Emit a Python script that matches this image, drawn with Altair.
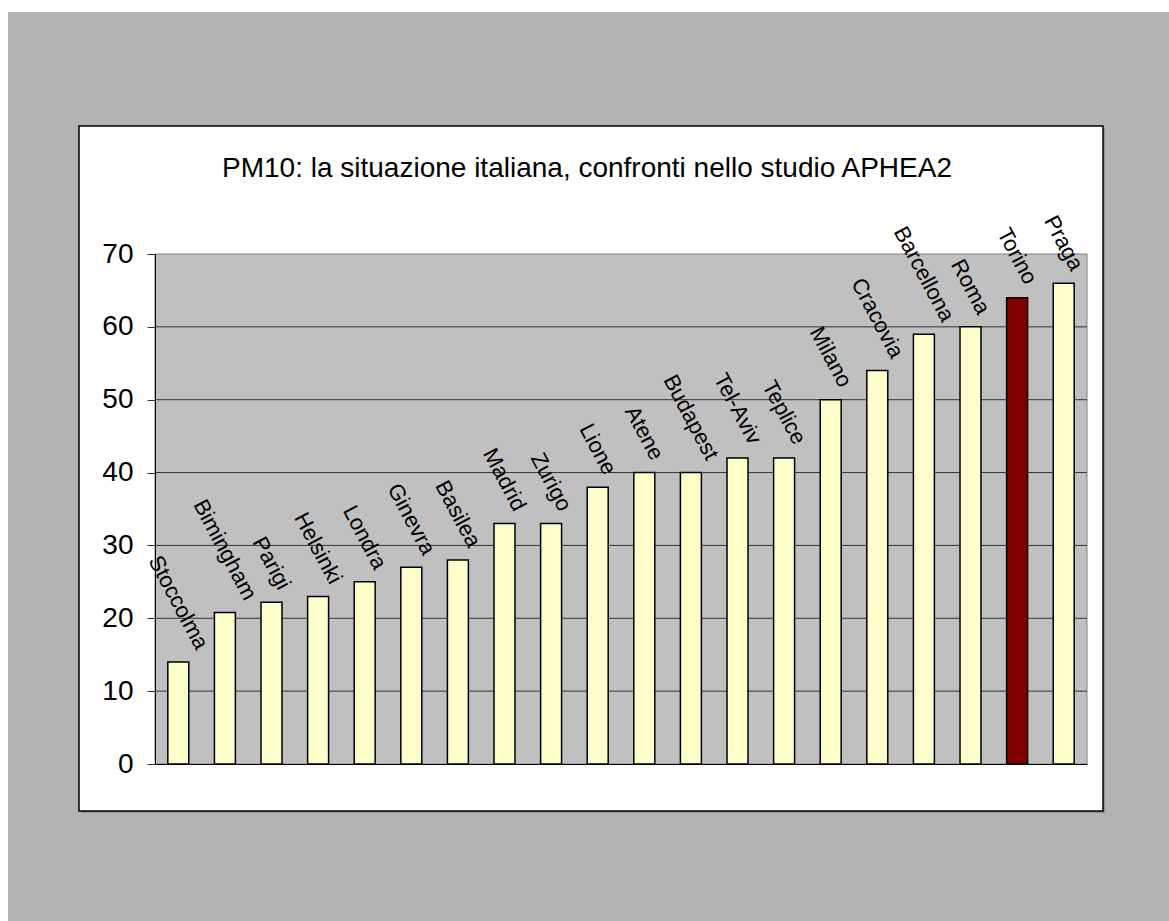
import math
import altair as alt
import pandas as pd

# ---- data ----
cities = ["Stoccolma", "Bimingham", "Parigi", "Helsinki", "Londra", "Ginevra", "Basilea",
          "Madrid", "Zurigo", "Lione", "Atene", "Budapest", "Tel-Aviv", "Teplice",
          "Milano", "Cracovia", "Barcellona", "Roma", "Torino", "Praga"]
pm10 = [14, 20.8, 22.2, 23, 25, 27, 28, 33, 33, 38, 40, 40, 42, 42, 50, 54, 59, 60, 64, 66]
highlight = "Torino"
y_ticks = [0, 10, 20, 30, 40, 50, 60, 70]
title_text = "PM10: la situazione italiana, confronti nello studio APHEA2"

# ---- layout ----
PL, PT, PR, PB = 155, 254, 82, 157
W, H = 1169 - PL - PR, 921 - PT - PB
FONT = "Liberation Sans"
ANG = 62
LFS = 22
YMAX = 70
sa, ca = math.sin(math.radians(ANG)), math.cos(math.radians(ANG))

# approximate Arial advance widths (1/1000 em) to centre each rotated label's box over its bar
ARIAL = {"A": 667, "B": 667, "C": 722, "G": 778, "H": 722, "L": 556, "M": 833, "P": 667,
         "R": 722, "S": 667, "T": 611, "Z": 611, "-": 333,
         "a": 556, "b": 556, "c": 500, "d": 556, "e": 556, "g": 556, "h": 556, "i": 222,
         "k": 500, "l": 222, "m": 833, "n": 556, "o": 556, "p": 556, "r": 333, "s": 500,
         "t": 278, "u": 556, "v": 500}


def label_y(city, value):
    length = sum(ARIAL.get(ch, 556) for ch in city) / 1000 * LFS
    box_h = length * sa + 0.8 * LFS * ca
    px = 10 + box_h / 2
    return value + px * YMAX / H


df = pd.DataFrame({"city": cities, "pm10": pm10})
df["ly"] = [label_y(c, v) for c, v in zip(cities, pm10)]
one = pd.DataFrame({"k": [0]})

yscale = alt.Scale(domain=[0, YMAX], nice=False)
xscale = alt.Scale(paddingInner=0.55, paddingOuter=0.275)
yaxis = alt.Axis(values=y_ticks, grid=False, title=None, tickSize=8, tickColor="#333333",
                 domainColor="black", domainWidth=1, labelFont=FONT, labelFontSize=28,
                 labelColor="black", labelPadding=14, zindex=1)
xaxis = alt.Axis(labels=False, ticks=False, title=None, domainColor="black",
                 domainWidth=1, zindex=1)

bg = alt.Chart(one).mark_rect(fill="#b3b3b3").encode(
    x=alt.value(8 - PL), x2=alt.value(1169 - PL), y=alt.value(12 - PT), y2=alt.value(921 - PT))
shadow = alt.Chart(one).mark_rect(fill="#8f8f8f").encode(
    x=alt.value(81 - PL), x2=alt.value(1105 - PL), y=alt.value(128 - PT), y2=alt.value(813 - PT))
box = alt.Chart(one).mark_rect(fill="white", stroke="black", strokeWidth=1.5).encode(
    x=alt.value(79 - PL), x2=alt.value(1103 - PL), y=alt.value(126 - PT), y2=alt.value(811 - PT))
plotbg = alt.Chart(one).mark_rect(fill="#c0c0c0", stroke="#808080", strokeWidth=1).encode(
    x=alt.value(0), x2=alt.value(W), y=alt.value(0), y2=alt.value(H))

grid = alt.Chart(pd.DataFrame({"v": y_ticks[1:-1]})).mark_rule(color="#333333", strokeWidth=1).encode(
    y=alt.Y("v:Q", scale=yscale, axis=yaxis))

bars = alt.Chart(df).mark_bar(stroke="black", strokeWidth=1.5).encode(
    x=alt.X("city:N", sort=cities, scale=xscale, axis=xaxis),
    y=alt.Y("pm10:Q", scale=yscale, axis=yaxis),
    color=alt.condition(alt.datum.city == highlight, alt.value("#800000"), alt.value("#ffffcc")),
)

labels = alt.Chart(df).mark_text(angle=ANG, align="center", baseline="middle", font=FONT,
                                 fontSize=LFS, color="black").encode(
    x=alt.X("city:N", sort=cities, scale=xscale, axis=xaxis),
    y=alt.Y("ly:Q", scale=yscale, axis=yaxis),
    text="city:N",
)

title = alt.Chart(one).mark_text(font=FONT, fontSize=28, align="center", baseline="alphabetic",
                                 color="black").encode(
    x=alt.value(587 - PL), y=alt.value(177 - PT), text=alt.value(title_text))

chart = alt.layer(bg, shadow, box, plotbg, grid, bars, labels, title).properties(
    width=W, height=H,
    padding={"left": PL, "top": PT, "right": PR, "bottom": PB},
    autosize=alt.AutoSizeParams(type="none"),
).configure(background="white").configure_view(strokeWidth=0)

chart.save("out.html", embed_options={"renderer": "svg", "actions": False})
